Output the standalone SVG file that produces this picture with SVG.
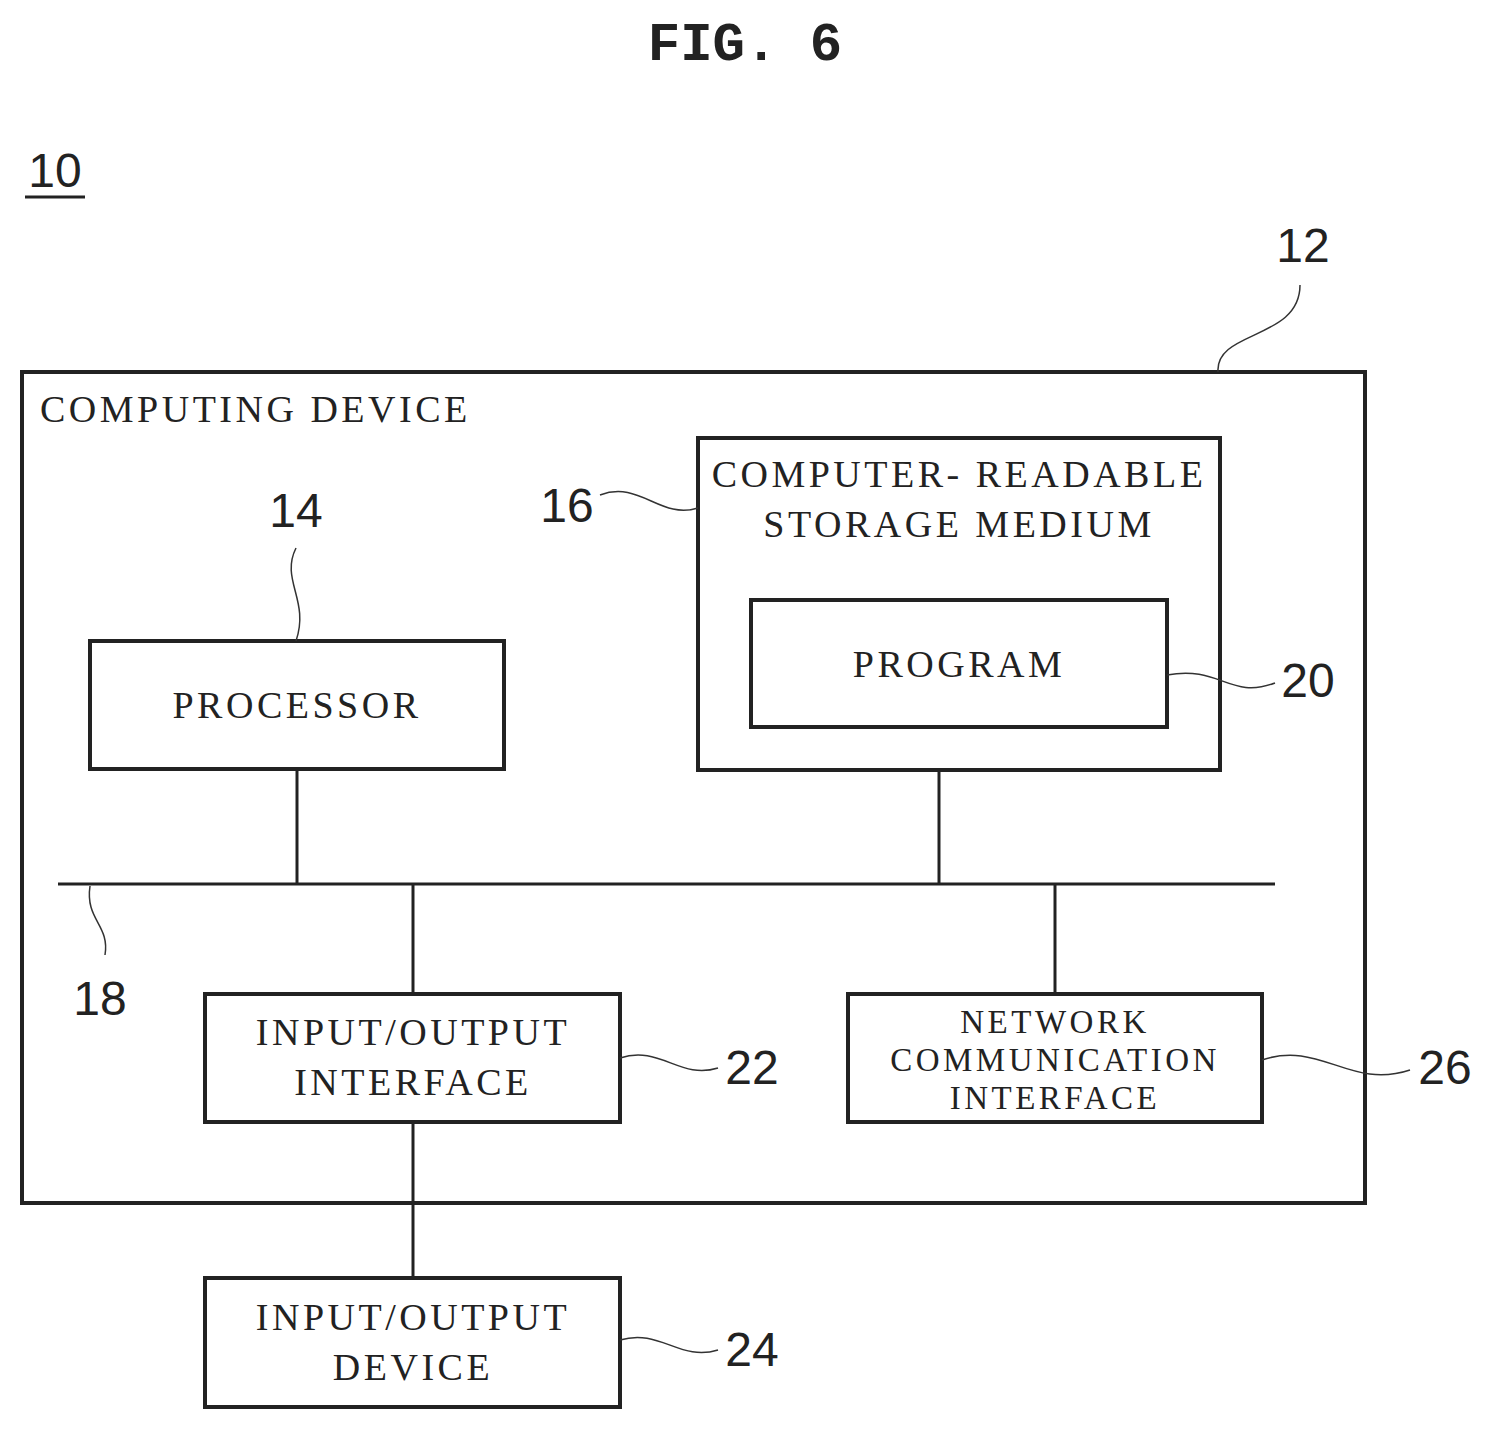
<svg xmlns="http://www.w3.org/2000/svg" width="1503" height="1431" viewBox="0 0 1503 1431">
<style>
.b{fill:none;stroke:#222;stroke-width:4}
.l{fill:none;stroke:#222;stroke-width:3}
.w{fill:none;stroke:#333;stroke-width:1.5}
.t{font-family:"Liberation Serif",serif;font-size:38px;fill:#222;text-anchor:middle;letter-spacing:3.5px}
.s{font-family:"Liberation Serif",serif;font-size:33px;fill:#222;text-anchor:middle;letter-spacing:3.5px}
.n{font-family:"Liberation Sans",sans-serif;font-size:48px;fill:#222;text-anchor:middle}
</style>
<rect width="1503" height="1431" fill="#fff"/>
<text x="745" y="60" font-family="Liberation Mono,monospace" font-weight="bold" font-size="54" text-anchor="middle" fill="#222">FIG. 6</text>
<g id="label10"><text x="55" y="187" class="n">10</text><line x1="25" y1="197" x2="85" y2="197" class="l"/></g>
<g id="n12"><rect x="22" y="372" width="1343" height="831" class="b"/><text x="40" y="422" class="t" style="text-anchor:start">COMPUTING DEVICE</text><text x="1303" y="262" class="n">12</text><path d="M1218,372 C1215,330 1300,340 1300,285" class="w"/></g>
<g id="n16"><rect x="698" y="438" width="522" height="332" class="b"/><text x="959" y="487" class="t">COMPUTER- READABLE</text><text x="959" y="537" class="t">STORAGE MEDIUM</text><text x="567" y="522" class="n">16</text><path d="M600,495 C640,480 660,520 698,508" class="w"/></g>
<g id="n20"><rect x="751" y="600" width="416" height="127" class="b"/><text x="959" y="677" class="t">PROGRAM</text><text x="1308" y="697" class="n">20</text><path d="M1167,675 C1220,665 1230,700 1275,683" class="w"/></g>
<g id="n14"><rect x="90" y="641" width="414" height="128" class="b"/><text x="297" y="718" class="t">PROCESSOR</text><text x="296" y="527" class="n">14</text><path d="M296,548 C280,580 310,600 296,641" class="w"/></g>
<g id="n18"><text x="100" y="1015" class="n">18</text><path d="M90,886 C85,920 110,925 105,955" class="w"/></g>
<g id="n22"><rect x="205" y="994" width="415" height="128" class="b"/><text x="413" y="1045" class="t">INPUT/OUTPUT</text><text x="413" y="1095" class="t">INTERFACE</text><text x="752" y="1084" class="n">22</text><path d="M620,1058 C660,1045 680,1080 718,1068" class="w"/></g>
<g id="n26"><rect x="848" y="994" width="414" height="128" class="b"/><text x="1055" y="1033" class="s">NETWORK</text><text x="1055" y="1071" class="s">COMMUNICATION</text><text x="1055" y="1109" class="s">INTERFACE</text><text x="1445" y="1084" class="n">26</text><path d="M1262,1060 C1320,1040 1350,1090 1410,1070" class="w"/></g>
<g id="n24"><rect x="205" y="1278" width="415" height="129" class="b"/><text x="413" y="1330" class="t">INPUT/OUTPUT</text><text x="413" y="1380" class="t">DEVICE</text><text x="752" y="1366" class="n">24</text><path d="M620,1340 C660,1328 680,1362 718,1350" class="w"/></g>
<g id="connectors">
<line x1="58" y1="884" x2="1275" y2="884" class="l"/>
<line x1="297" y1="769" x2="297" y2="884" class="l"/>
<line x1="939" y1="770" x2="939" y2="884" class="l"/>
<line x1="413" y1="884" x2="413" y2="994" class="l"/>
<line x1="1055" y1="884" x2="1055" y2="994" class="l"/>
<line x1="413" y1="1122" x2="413" y2="1278" class="l"/>
</g>
</svg>
